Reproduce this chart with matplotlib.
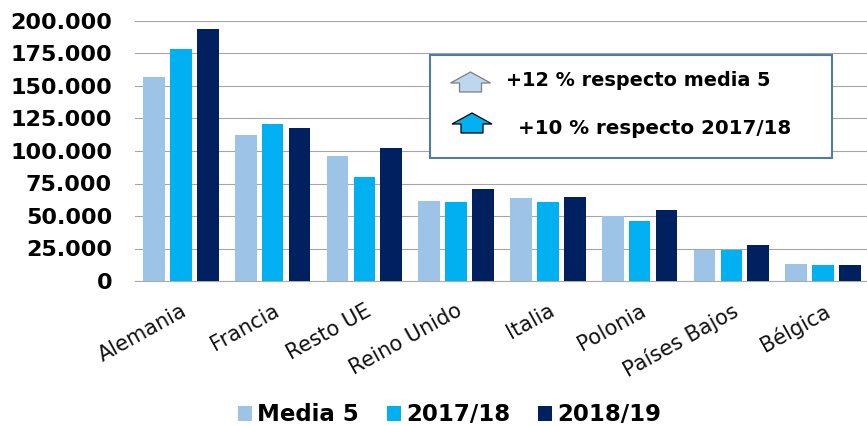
#!/usr/bin/env python
import matplotlib
matplotlib.use('Agg')
import matplotlib.pyplot as plt
from matplotlib.patches import Rectangle, Polygon
from matplotlib.ticker import FuncFormatter
import numpy as np

paises = ['Alemania', 'Francia', 'Resto UE', 'Reino Unido', 'Italia', 'Polonia', 'Países Bajos', 'Bélgica']
media5 = [157000, 112000, 96000, 61500, 64000, 50000, 24000, 13000]
c1718 = [178500, 121000, 80000, 60500, 61000, 46000, 24000, 12000]
c1819 = [193500, 118000, 102000, 71000, 65000, 54500, 27500, 12000]
yticks = [0, 25000, 50000, 75000, 100000, 125000, 150000, 175000, 200000]

W, H = 867, 425
fig = plt.figure(figsize=(W/100, H/100), dpi=100)
ax = fig.add_axes([135/W, 1-281/H, (869-135)/W, 260/H])


def px(x, y):
    # pixel position in the picture -> figure fraction
    return x/W, 1-y/H


x = np.arange(len(paises))
bw = 0.235
step = 0.293
ax.bar(x-step, media5, bw, color='#9DC3E6', label='Media 5', zorder=3)
ax.bar(x, c1718, bw, color='#00B0F0', label='2017/18', zorder=3)
ax.bar(x+step, c1819, bw, color='#002060', label='2018/19', zorder=3)

ax.set_xlim(-0.5, len(paises)-0.5)
ax.set_ylim(0, 200000)
ax.set_yticks(yticks)
ax.yaxis.set_major_formatter(FuncFormatter(lambda v, p: f'{int(v):,}'.replace(',', '.')))
ax.tick_params(axis='y', length=0, pad=16.5, labelsize=16)
for t in ax.get_yticklabels():
    t.set_fontweight('bold')
ax.grid(axis='y', color='#a6a6a6', lw=0.8, zorder=0)
ax.set_axisbelow(True)
for s in ax.spines.values():
    s.set_visible(False)
ax.spines['bottom'].set_visible(True)
ax.spines['bottom'].set_color('#aaaaaa')

ax.set_xticks(x)
ax.set_xticklabels(paises, rotation=29, ha='right', rotation_mode='anchor', fontsize=15, color='#111111')
ax.tick_params(axis='x', length=0, pad=14)

# cuadro de texto
fig.add_artist(Rectangle(px(429.5, 158), 402/W, 103/H, transform=fig.transFigure,
                         fc='white', ec='#4F7BA6', lw=1.5, zorder=5))


def flecha(cx, top, fc, ec):
    pts = [(cx, top), (cx+20, top+11), (cx+11, top+11), (cx+11, top+20),
           (cx-11, top+20), (cx-11, top+11), (cx-20, top+11)]
    fig.add_artist(Polygon([px(*p) for p in pts], closed=True, transform=fig.transFigure,
                           fc=fc, ec=ec, lw=0.9, zorder=6))


flecha(470.5, 72, '#BDD7EE', '#7F7F7F')
flecha(472, 113, '#00B0F0', '#000000')
fig.text(*px(506, 81), '+12 % respecto media 5', fontsize=13.9, fontweight='bold', va='center', zorder=7)
fig.text(*px(518, 129), '+10 % respecto 2017/18', fontsize=14.3, fontweight='bold', va='center', zorder=7)

ax.legend(loc='lower center', bbox_to_anchor=(449.5/W, 1-426.5/H), bbox_transform=fig.transFigure,
          ncol=3, frameon=False, prop={'weight': 'bold', 'size': 16.5},
          handlelength=0.62, handleheight=0.62, handletextpad=0.22, columnspacing=1.2, borderaxespad=0, borderpad=0)

fig.savefig('out.png', dpi=100)
